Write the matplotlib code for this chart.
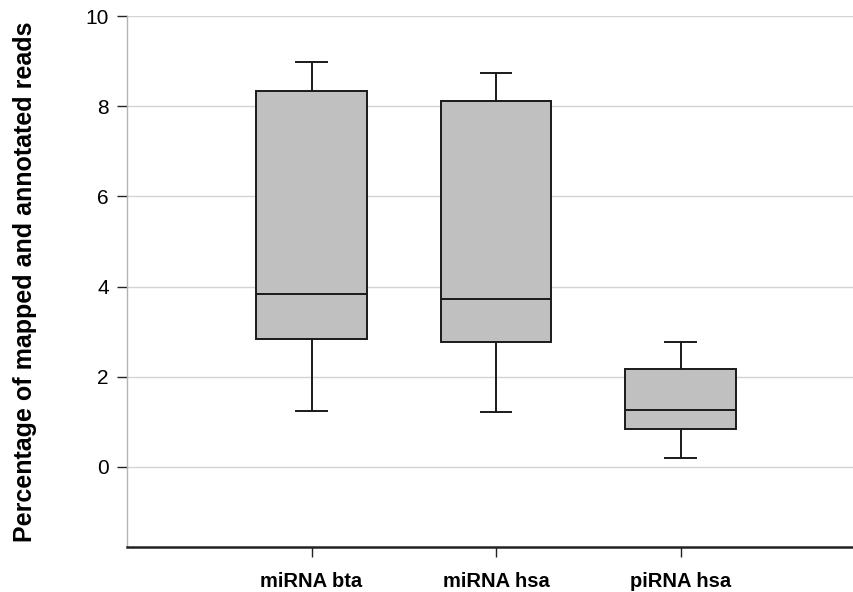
import matplotlib
matplotlib.use("Agg")
import matplotlib.pyplot as plt

# box statistics
categories = ["miRNA bta", "miRNA hsa", "piRNA hsa"]
whislo = [1.24, 1.22, 0.20]
q1 = [2.83, 2.78, 0.84]
med = [3.84, 3.72, 1.27]
q3 = [8.34, 8.13, 2.18]
whishi = [8.99, 8.73, 2.76]

yticks = [0, 2, 4, 6, 8, 10]

plt.rcParams['font.family'] = ['Liberation Sans', 'DejaVu Sans']

stats = []
for i in range(len(categories)):
    stats.append(dict(label=categories[i], whislo=whislo[i], q1=q1[i],
                      med=med[i], q3=q3[i], whishi=whishi[i], fliers=[]))

fig = plt.figure(figsize=(8.54, 5.92), dpi=100)
ax = fig.add_axes([0.1487, 0.076, 0.8513, 0.8965])

ax.bxp(stats, positions=[1, 2, 3], widths=0.6, patch_artist=True,
       showfliers=False,
       boxprops=dict(facecolor='#c0c0c0', edgecolor='#1a1a1a', linewidth=1.4),
       medianprops=dict(color='#1a1a1a', linewidth=1.4),
       whiskerprops=dict(color='#1a1a1a', linewidth=1.4),
       capprops=dict(color='#1a1a1a', linewidth=1.4),
       capwidths=0.165)

ax.set_xlim(0, 3.94)
ax.set_ylim(-1.78, 10)
ax.set_yticks(yticks)
ax.set_yticklabels([str(v) for v in yticks], fontsize=15)
ax.set_xticks([1, 2, 3])
ax.set_xticklabels(categories, fontsize=14.5, fontweight='bold')

ax.yaxis.grid(True, color='#d4d4d4', linewidth=1.0)
ax.set_axisbelow(True)

ax.spines['top'].set_visible(False)
ax.spines['right'].set_visible(False)
ax.spines['left'].set_color('#b4b4b4')
ax.spines['left'].set_linewidth(1.0)
ax.spines['bottom'].set_color('#222222')
ax.spines['bottom'].set_linewidth(1.8)

ax.tick_params(axis='y', length=7, width=1.0, color='#222222', pad=6)
ax.tick_params(axis='x', length=7, width=1.0, color='#222222', pad=11)

ax.set_ylabel("Percentage of mapped and annotated reads", fontsize=18,
              fontweight='bold')
ax.yaxis.set_label_coords(-0.124, 0.5)

fig.savefig("out.png", dpi=100)
